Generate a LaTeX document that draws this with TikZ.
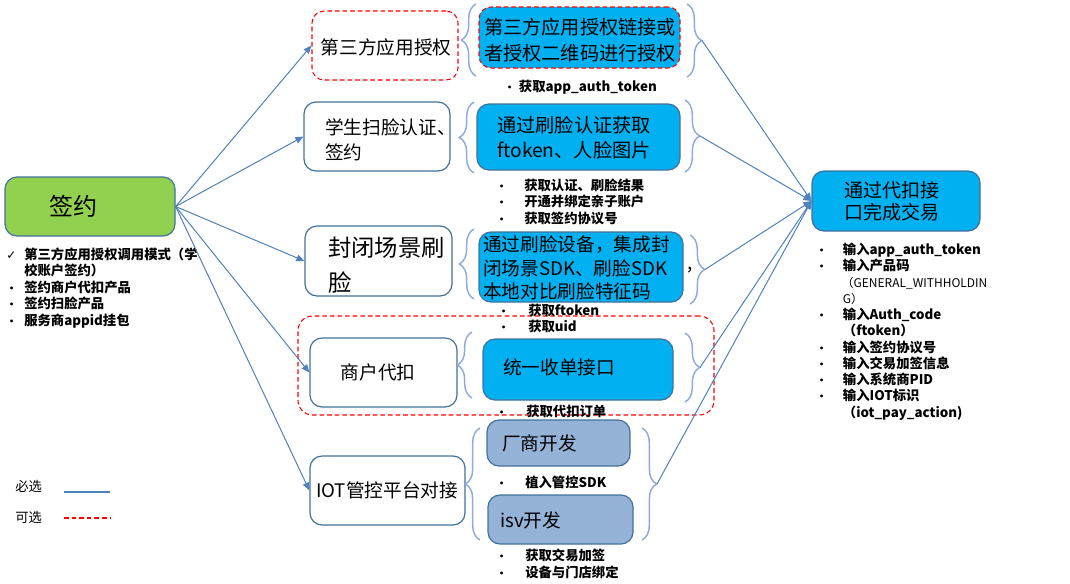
\documentclass[tikz,border=0pt]{standalone}
\usepackage{fontspec}
\setmainfont{Noto Sans CJK SC}
\newfontfamily\dejavu{DejaVu Sans}
\usetikzlibrary{arrows.meta,decorations.pathreplacing,fit}
\definecolor{bord}{RGB}{65,113,156}
\definecolor{cyanf}{RGB}{0,176,240}
\definecolor{greenf}{RGB}{146,208,80}
\definecolor{steelf}{RGB}{149,179,215}
\definecolor{arrc}{RGB}{79,129,189}
\definecolor{bracec}{RGB}{143,170,220}
\newcommand{\bul}[1]{\makebox[#1][l]{\fontsize{8pt}{8pt}\selectfont •}}
\begin{document}
\begin{tikzpicture}[x=0.75pt,y=-0.75pt,
  box/.style={draw=bord, line width=0.9pt, rounded corners=9pt, inner sep=0pt},
  wbox/.style={box, fill=white},
  cbox/.style={box, fill=cyanf},
  sbox/.style={box, fill=steelf},
  optb/.style={draw=red, dash pattern=on 3.5pt off 2.2pt, line width=0.8pt},
  lbl/.style={inner sep=0pt, anchor=west, align=left, text=black},
  ctr/.style={inner sep=0pt, align=center, text=black},
  big/.style={font=\fontsize{14pt}{19pt}\selectfont},
  blist/.style={lbl, font=\bfseries\fontsize{10pt}{12.4pt}\selectfont},
  conn/.style={draw=arrc, line width=0.75pt, -{Triangle[length=6pt,width=5pt]}},
  bracestyle/.style={draw=bracec, line width=1.1pt, decorate, decoration={brace, amplitude=11pt}}]

\useasboundingbox (0,0) rectangle (1070,583);

% ---- sign box and its list
\node[box, fill=greenf, fit={(5,177) (175,236)}] (sign) {};
\node[ctr, font=\fontsize{18pt}{22pt}\selectfont] (signt) at (73,206) {签约};
\node[blist] (signl) at (6,288) {\makebox[13.5pt][l]{{\dejavu\fontsize{9pt}{9pt}\selectfont ✓}}第三方应用授权调用模式（学\\
\hspace*{13.5pt}校账户签约）\\
\bul{13.5pt}签约商户代扣产品\\
\bul{13.5pt}签约扫脸产品\\
\bul{13.5pt}服务商appid挂包};

% ---- optional outer frame for group 4
\node[optb, rounded corners=11pt, inner sep=0pt, fit={(298,316) (714,415)}] (opt4) {};

% ---- left column boxes
\node[wbox, optb, fit={(312,11) (458,80)}] (b1) {};
\node[ctr, big] (b1t) at (386,47) {第三方应用授权};
\node[wbox, fit={(304,102) (450,171)}] (b2) {};
\node[lbl, font=\fontsize{14pt}{18.75pt}\selectfont] (b2t) at (325,140) {学生扫脸认证、\\签约};
\node[wbox, fit={(305,226) (452,296)}] (b3) {};
\node[lbl, font=\fontsize{17.5pt}{26pt}\selectfont] (b3t) at (328,265) {封闭场景刷\\脸};
\node[wbox, fit={(310,338) (457,407)}] (b4) {};
\node[ctr, big] (b4t) at (378,372) {商户代扣};
\node[wbox, fit={(310,456) (465,525)}] (b5) {};
\node[ctr, big] (b5t) at (387,490) {IOT管控平台对接};

% ---- middle boxes
\node[cbox, optb, fit={(479,7) (680,68)}] (c1) {};
\node[ctr, font=\fontsize{14.4pt}{19.5pt}\selectfont] (c1t) at (580,40) {第三方应用授权链接或\\者授权二维码进行授权};
\node[cbox, fit={(477,104) (680,170)}] (c2) {};
\node[lbl, font=\fontsize{14.4pt}{18.75pt}\selectfont] (c2t) at (497,138) {通过刷脸认证获取\\ftoken、人脸图片};
\node[cbox, fit={(479,232) (683,302)}] (c3) {};
\node[lbl, font=\fontsize{14pt}{17.5pt}\selectfont] (c3t) at (483,268) {通过刷脸设备，集成封\\闭场景SDK、刷脸SDK\\本地对比刷脸特征码};
\node[lbl, big] (c3c) at (687,270) {,};
\node[cbox, fit={(483,339) (673,400)}] (c4) {};
\node[lbl, big] (c4t) at (503,367) {统一收单接口};
\node[sbox, fit={(487,420) (630,466)}] (s1) {};
\node[lbl, big] (s1t) at (502,443) {厂商开发};
\node[sbox, fit={(488,495) (633,544)}] (s2) {};
\node[lbl, big] (s2t) at (500,520) {isv开发};

% ---- final box
\node[cbox, fit={(812,171) (980,231)}] (fin) {};
\node[lbl, font=\fontsize{14.3pt}{16.5pt}\selectfont] (fint) at (844,201) {通过代扣接\\口完成交易};

% ---- braces
\draw[bracestyle] (476,76) -- (476,4);
\draw[bracestyle] (474,173) -- (474,102);
\draw[bracestyle] (474,299) -- (474,229);
\draw[bracestyle] (472,398) -- (472,332);
\draw[bracestyle] (480,540) -- (480,428);
\draw[bracestyle] (687,4) -- (687,77);
\draw[bracestyle] (685,100) -- (685,172);
\draw[bracestyle] (690,235) -- (690,304);
\draw[bracestyle] (685,333) -- (685,402);
\draw[bracestyle] (642,428) -- (642,540);
\coordinate (r1) at (702,40.5);
\coordinate (r2) at (700,136);
\coordinate (r3) at (705,269.5);
\coordinate (r4) at (700,367.5);
\coordinate (r5) at (657,484);

% ---- middle bullet lists
\node[blist] (m1) at (504,87) {\bul{11pt}获取app\_auth\_token};
\node[blist] (m2) at (496,201.5) {\bul{21pt}获取认证、刷脸结果\\\bul{21pt}开通并绑定亲子账户\\\bul{21pt}获取签约协议号};
\node[blist, font=\bfseries\fontsize{10pt}{12pt}\selectfont] (m3) at (498,318) {\bul{22.5pt}获取ftoken\\\bul{22.5pt}获取uid};
\node[blist] (m4) at (496,411) {\bul{22.5pt}获取代扣订单};
\node[blist] (m5) at (496,482) {\bul{21.75pt}植入管控SDK};
\node[blist, font=\bfseries\fontsize{10pt}{12.75pt}\selectfont] (m6) at (496,563.5) {\bul{21.75pt}获取交易加签\\\bul{21.75pt}设备与门店绑定};

% ---- final list
\node[blist, font=\bfseries\fontsize{10pt}{12.2pt}\selectfont] (finl) at (816,331.5) {\bul{20pt}输入app\_auth\_token\\
\bul{20pt}输入产品码\\
\hspace*{19pt}{\mdseries\fontsize{9pt}{12pt}\selectfont （GENERAL\_WITHHOLDIN}\\
\hspace*{20pt}{\mdseries\fontsize{9pt}{12pt}\selectfont G）}\\
\bul{20pt}输入Auth\_code\\
\hspace*{20pt}（ftoken）\\
\bul{20pt}输入签约协议号\\
\bul{20pt}输入交易加签信息\\
\bul{20pt}输入系统商PID\\
\bul{20pt}输入IOT标识\\
\hspace*{20pt}（iot\_pay\_action)};

% ---- connectors
\draw[conn] (sign.east) -- (b1.west);
\draw[conn] (sign.east) -- (b2.west);
\draw[conn] (sign.east) -- (b3.west);
\draw[conn] (sign.east) -- (b4.west);
\draw[conn] (sign.east) -- (b5.west);
\draw[conn] (r1) -- (fin.west);
\draw[conn] (r2) -- (fin.west);
\draw[conn] (r3) -- (fin.west);
\draw[conn] (r4) -- (fin.west);
\draw[conn] (r5) -- (fin.west);

% ---- legend
\node[lbl, font=\fontsize{10pt}{12pt}\selectfont] (leg1) at (15,486) {必选};
\node[lbl, font=\fontsize{10pt}{12pt}\selectfont] (leg2) at (15,517) {可选};
\coordinate (l1a) at (64,492);
\coordinate (l1b) at (110,492);
\coordinate (l2a) at (64,518);
\coordinate (l2b) at (110,518);
\draw[draw=arrc, line width=0.9pt] (l1a) -- (l1b);
\draw[optb] (l2a) -- (l2b);
\end{tikzpicture}
\end{document}
